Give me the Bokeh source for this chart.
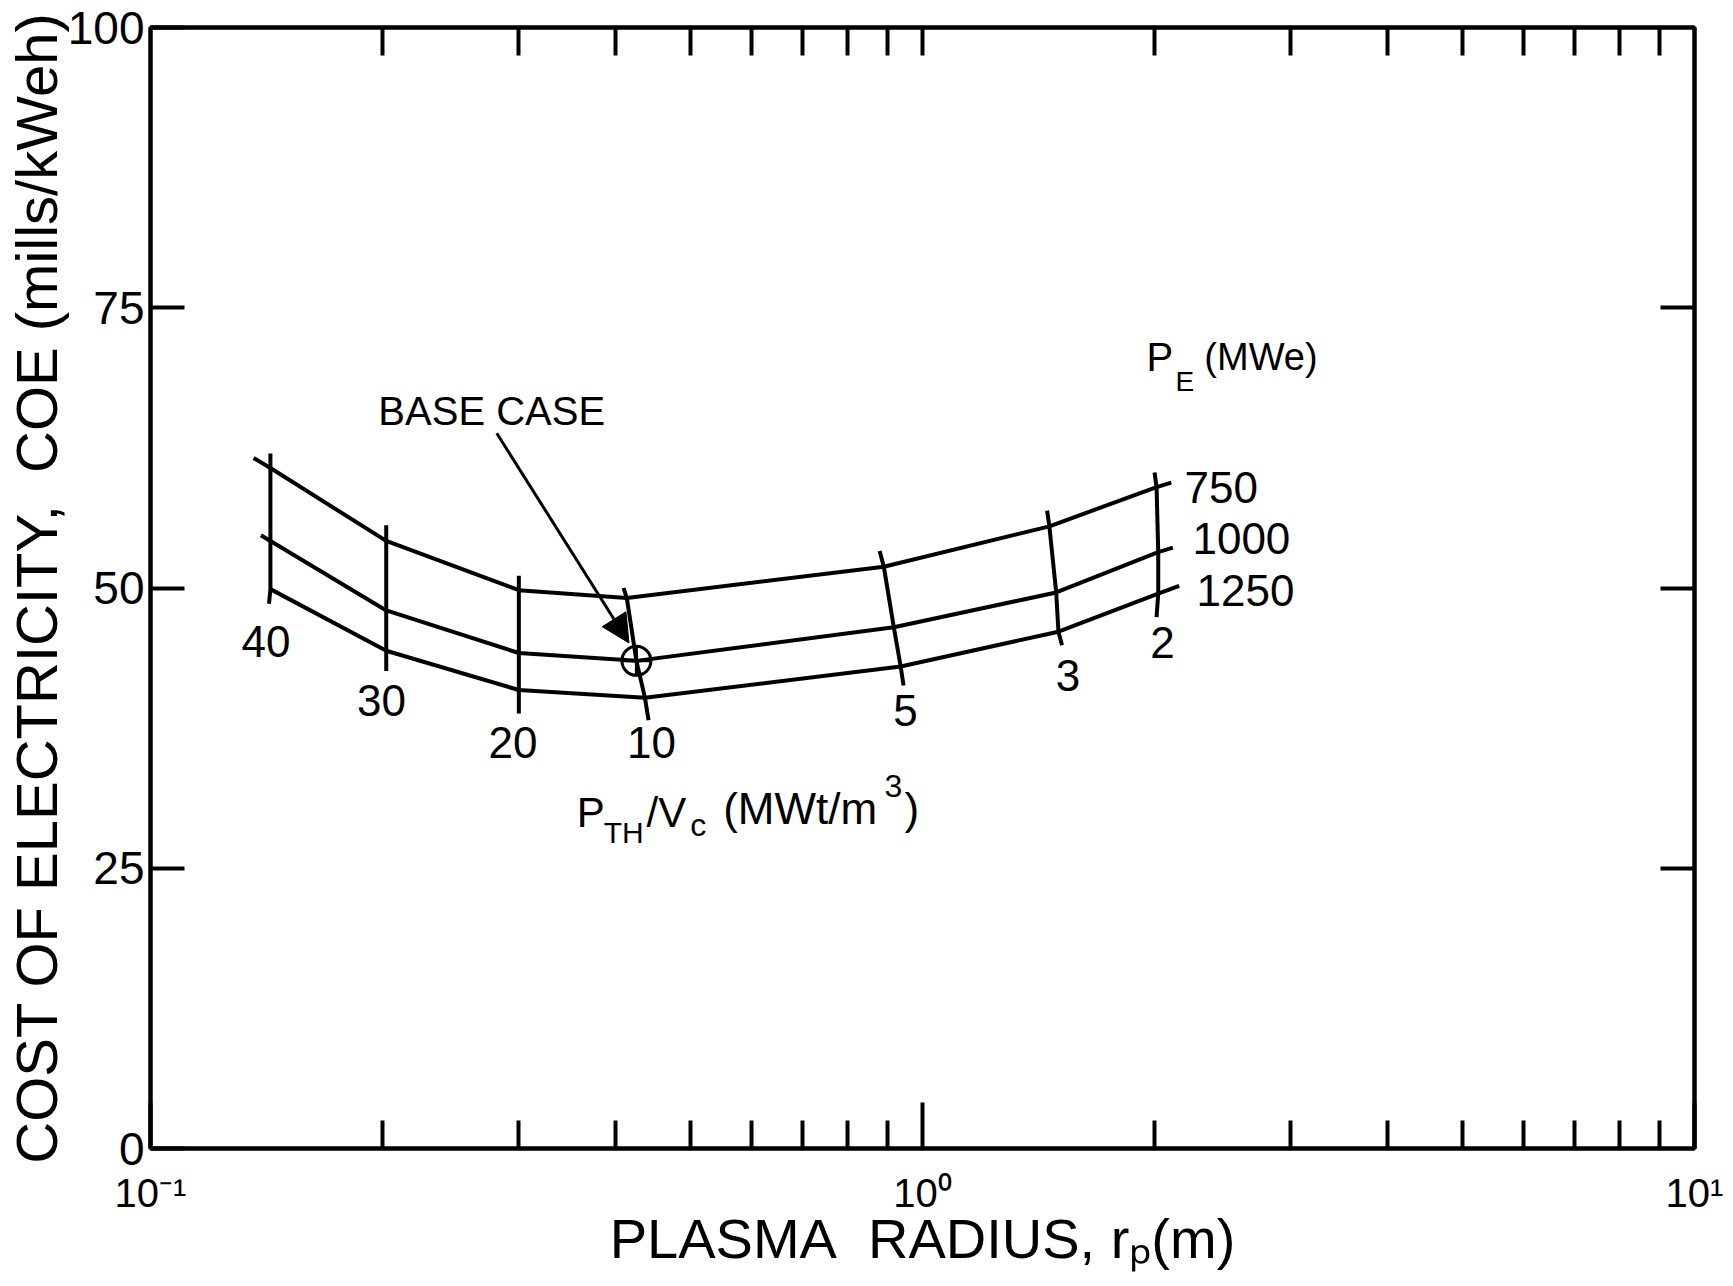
import math
from bokeh.plotting import figure
from bokeh.models import (FixedTicker, LinearAxis, LogAxis, Label, Arrow, NormalHead,
                          Range1d, CustomJSTickFormatter)
from bokeh.embed import file_html
from bokeh.resources import INLINE

FONT = "Liberation Sans"

# ---------------- data ----------------
pth_vc = [40, 30, 20, 10, 5, 3, 2]            # P_TH/V_c (MWt/m^3) of the cross lines
pe_levels = ["750", "1000", "1250"]            # P_E (MWe)

r_750 = [0.143, 0.202, 0.300, 0.414, 0.891, 1.46, 2.01]
coe_750 = [60.7, 54.2, 49.8, 49.1, 51.9, 55.5, 59.0]
r_1000 = [0.143, 0.202, 0.300, 0.426, 0.918, 1.49, 2.02]
coe_1000 = [54.2, 48.0, 44.2, 43.5, 46.5, 49.6, 53.2]
r_1250 = [0.143, 0.202, 0.300, 0.437, 0.937, 1.50, 2.02]
coe_1250 = [49.9, 44.4, 40.9, 40.2, 43.0, 46.1, 49.5]

# short overshoots of the P_E curves past the end cross lines (left end, right end)
r_ends_750 = [0.136, 2.10]
coe_ends_750 = [61.6, 59.4]
r_ends_1000 = [0.139, 2.11]
coe_ends_1000 = [54.7, 53.6]
r_ends_1250 = [0.143, 2.15]
coe_ends_1250 = [49.9, 50.2]

# cross-line extents above the 750 curve and below the 1250 curve
cross_top_r = [0.143, 0.202, 0.300, 0.410, 0.880, 1.450, 1.998]
cross_top_coe = [62.0, 55.6, 51.1, 50.0, 53.3, 56.9, 60.3]
cross_bot_r = [0.1424, 0.202, 0.300, 0.4417, 0.945, 1.516, 2.010]
cross_bot_coe = [48.6, 42.6, 38.8, 38.2, 41.3, 44.9, 47.4]

# positions of the P_TH/V_c value labels
cross_label_r = [0.1411, 0.1992, 0.2949, 0.4457, 0.9508, 1.543, 2.046]
cross_label_coe = [45.2, 40.0, 36.2, 36.2, 39.1, 42.2, 45.1]

# positions of the P_E value labels
pe_label_r = [2.185, 2.237, 2.264]
pe_label_coe = [59.0, 54.4, 49.8]

base_index = 3                     # base case: P_E = 1000 MWe, P_TH/V_c = 10
y_ticks = [0, 25, 50, 75, 100]
x_major = [0.1, 1, 10]
x_tick_labels = ["10\u207b\u00b9", "10\u2070", "10\u00b9"]
x_minor = [0.2, 0.3, 0.4, 0.5, 0.6, 0.7, 0.8, 0.9, 2, 3, 4, 5, 6, 7, 8, 9]

# ---------------- figure ----------------
W, H = 1725, 1278
FL, FT, FW, FH = 147, 27, 1547, 1121
p = figure(width=W, height=H, x_axis_type="log",
           x_range=Range1d(0.1, 10), y_range=Range1d(0, 100),
           output_backend="svg", toolbar_location=None,
           min_border_left=FL, min_border_right=W - FL - FW,
           min_border_top=FT, min_border_bottom=H - FT - FH)
p.xgrid.visible = False
p.ygrid.visible = False
p.outline_line_color = "black"
p.outline_line_width = 4
p.background_fill_color = "white"
p.border_fill_color = "white"

# left axis
ya = p.yaxis[0]
ya.ticker = FixedTicker(ticks=y_ticks)
ya.major_tick_in = 34
ya.major_tick_out = 0
ya.minor_tick_line_color = None
ya.axis_line_width = 4
ya.major_tick_line_width = 4
ya.major_label_text_font = FONT
ya.major_label_text_font_size = "46px"
ya.major_label_text_color = "black"
ya.major_label_standoff = 6
ya.axis_label = "COST OF ELECTRICITY,\u00a0 COE (mills/kWeh)"
ya.axis_label_text_font = FONT
ya.axis_label_text_font_size = "58px"
ya.axis_label_text_font_style = "normal"
ya.axis_label_text_color = "black"
ya.axis_label_standoff = -4

# bottom axis
xa = p.xaxis[0]
xa.ticker = FixedTicker(ticks=x_major, minor_ticks=x_minor)
xa.formatter = CustomJSTickFormatter(args=dict(lbls=x_tick_labels, vals=x_major), code="""
let best = 0, d = 1e9;
for (let i = 0; i < vals.length; i++) {
  const e = Math.abs(Math.log10(vals[i]) - Math.log10(tick));
  if (e < d) { d = e; best = i; }
}
return lbls[best];
""")
xa.major_tick_in = 46
xa.major_tick_out = 0
xa.minor_tick_in = 28
xa.minor_tick_out = 0
xa.axis_line_width = 4
xa.major_tick_line_width = 4
xa.minor_tick_line_width = 4
xa.major_label_text_font = FONT
xa.major_label_text_font_size = "40px"
xa.major_label_text_color = "black"
xa.major_label_standoff = 22
xa.axis_label = "PLASMA\u00a0 RADIUS, r\u209a(m)"
xa.axis_label_text_font = FONT
xa.axis_label_text_font_size = "56px"
xa.axis_label_text_font_style = "normal"
xa.axis_label_text_color = "black"
xa.axis_label_standoff = -11

# right axis
ra = LinearAxis(ticker=FixedTicker(ticks=[25, 50, 75]))
ra.major_tick_in = 34
ra.major_tick_out = 0
ra.minor_tick_line_color = None
ra.axis_line_width = 4
ra.major_tick_line_width = 4
ra.major_label_text_color = None
ra.major_label_text_font_size = "0px"
p.add_layout(ra, "right")

# top axis
ta = LogAxis(ticker=FixedTicker(ticks=[1], minor_ticks=x_minor))
ta.major_tick_in = 28
ta.major_tick_out = 0
ta.minor_tick_in = 28
ta.minor_tick_out = 0
ta.axis_line_width = 4
ta.major_tick_line_width = 4
ta.minor_tick_line_width = 4
ta.major_label_text_color = None
ta.major_label_text_font_size = "0px"
p.add_layout(ta, "above")

# ---------------- curves ----------------
curves = [(r_750, coe_750, r_ends_750, coe_ends_750),
          (r_1000, coe_1000, r_ends_1000, coe_ends_1000),
          (r_1250, coe_1250, r_ends_1250, coe_ends_1250)]
for rs, cs, re_, ce_ in curves:
    xs = [re_[0]] + rs + [re_[1]]
    ys = [ce_[0]] + cs + [ce_[1]]
    p.line(xs, ys, line_width=4, line_color="black", line_join="round")

cross_xs = []
cross_ys = []
for i in range(len(pth_vc)):
    cross_xs.append([cross_top_r[i], r_750[i], r_1000[i], r_1250[i], cross_bot_r[i]])
    cross_ys.append([cross_top_coe[i], coe_750[i], coe_1000[i], coe_1250[i], cross_bot_coe[i]])
p.multi_line(cross_xs, cross_ys, line_width=4, line_color="black")

# base case marker
p.scatter([r_1000[base_index]], [coe_1000[base_index]], marker="circle_cross", size=29,
          line_width=3, line_color="black", fill_color=None)


def txt(x, y, t, size, align="left", baseline="middle"):
    p.add_layout(Label(x=x, y=y, text=t, text_font=FONT, text_font_size=size,
                       text_align=align, text_baseline=baseline, text_color="black"))


# labels on cross lines
for v, lx, ly in zip(pth_vc, cross_label_r, cross_label_coe):
    txt(lx, ly, str(v), "44px", align="center")

# labels of P_E curves
for t, lx, ly in zip(pe_levels, pe_label_r, pe_label_coe):
    txt(lx, ly, t, "44px")

# P_E (MWe)
txt(1.951, 70.6, "P", "40px")
txt(2.126, 68.4, "E", "28px")
txt(2.318, 70.6, "(MWe)", "38px")

# P_TH / V_c (MWt/m^3)
txt(0.3566, 30.0, "P", "42px")
txt(0.3865, 28.2, "TH", "30px")
txt(0.4391, 30.0, "/V", "42px")
txt(0.5004, 28.9, "c", "32px")
txt(0.5519, 30.3, "(MWt/m", "44px")
txt(0.893, 32.3, "3", "32px")
txt(0.948, 30.3, ")", "44px")

# BASE CASE with arrow
txt(0.1973, 65.8, "BASE CASE", "40px")
p.add_layout(Arrow(end=NormalHead(size=28, fill_color="black", line_color="black", line_width=1),
                   x_start=0.2809, y_start=63.8, x_end=0.4167, y_end=45.1,
                   line_width=3, line_color="black"))

open("out.html", "w", encoding="utf-8").write(file_html(p, INLINE))
